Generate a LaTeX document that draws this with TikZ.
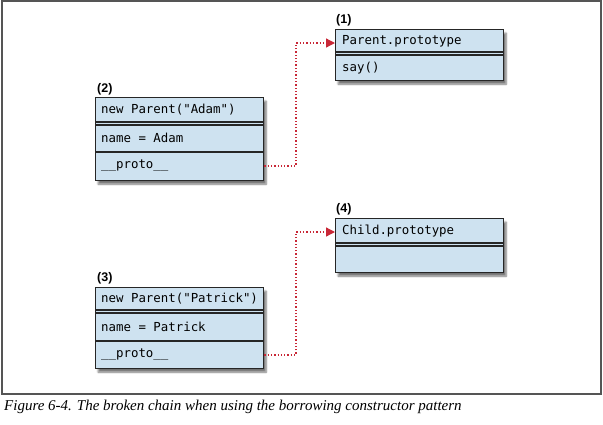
\documentclass[tikz,border=0pt]{standalone}
\usepackage{fontspec}
\setmainfont{Liberation Serif}
\newfontfamily\codefont{DejaVu Sans Mono}
\newfontfamily\labfont{Liberation Sans}
\usetikzlibrary{shadows.blur,arrows.meta}
\definecolor{boxblue}{RGB}{206,226,240}
\definecolor{linkred}{RGB}{200,40,55}
\definecolor{framegray}{RGB}{85,85,85}
\begin{document}
\begin{tikzpicture}[x=1pt,y=-1pt,
  box/.style={draw=black!85, line width=1.3pt, fill=boxblue,
    blur shadow={shadow xshift=2.5pt, shadow yshift=-3.5pt, shadow blur steps=6, shadow opacity=55},
    minimum width=168pt, inner sep=0pt, anchor=north west},
  row/.style={anchor=west, font=\codefont\fontsize{12.4}{14}\selectfont, inner sep=0pt},
  lab/.style={anchor=south west, font=\labfont\bfseries\fontsize{12.5}{14}\selectfont, inner sep=0pt},
  divider/.style={draw=black!85, line width=1.1pt},
  link/.style={draw=linkred, line width=1.3pt, dotted, -{Triangle[length=9pt,width=9pt]}}]
\useasboundingbox (0,0) rectangle (603,424);
\draw[framegray, line width=2pt] (2,1) rectangle (601,394);

% box 1
\node[lab] (l1) at (336,26) {(1)};
\node[box, minimum height=51pt] (p1) at (335,29) {};
\node[row] (p1r1) at (342,41) {Parent.prototype};
\node[row] (p1r2) at (342,68) {say()};
\draw[divider] (335,52) -- (503,52) (335,55) -- (503,55);

% box 2
\node[lab] (l2) at (97,95) {(2)};
\node[box, minimum height=83pt] (p2) at (95,97) {};
\node[row] (p2r1) at (101,110) {new Parent("Adam")};
\node[row] (p2r2) at (101,138) {name = Adam};
\node[row] (p2r3) at (101,166) {\_\_proto\_\_};
\draw[divider] (95,122) -- (264,122) (95,125) -- (264,125) (95,152) -- (264,152);

% box 4
\node[lab] (l4) at (336,215) {(4)};
\node[box, minimum height=54pt] (p4) at (335,218) {};
\node[row] (p4r1) at (342,231) {Child.prototype};
\draw[divider] (335,243) -- (503,243) (335,246) -- (503,246);

% box 3
\node[lab] (l3) at (97,284) {(3)};
\node[box, minimum height=81pt] (p3) at (95,287) {};
\node[row] (p3r1) at (101,299) {new Parent("Patrick")};
\node[row] (p3r2) at (101,327) {name = Patrick};
\node[row] (p3r3) at (101,355) {\_\_proto\_\_};
\draw[divider] (95,310) -- (264,310) (95,313) -- (264,313) (95,341) -- (264,341);

% links
\coordinate (k1) at (296,43);
\coordinate (k2) at (296,232);
\draw[link] (p2.east |- p2r3) -| (k1) -- (p1.west |- k1);
\draw[link] (p3.east |- p3r3) -| (k2) -- (p4.west |- k2);

% caption
\node[anchor=base west, inner sep=0pt, font=\itshape\fontsize{15}{17}\selectfont] (cap) at (4,410)
  {Figure 6-4. The broken chain when using the borrowing constructor pattern};
\end{tikzpicture}
\end{document}
